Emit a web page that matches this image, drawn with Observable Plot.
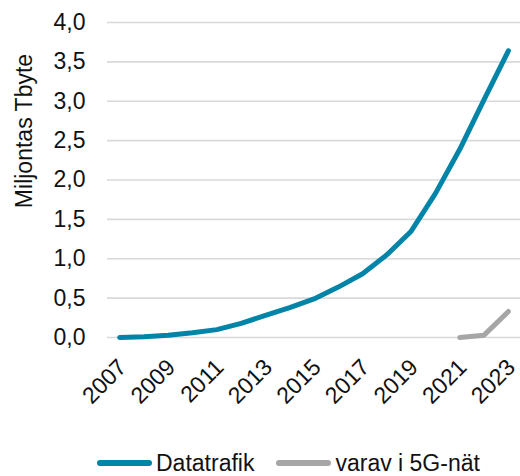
<!DOCTYPE html>
<html>
<head>
<meta charset="utf-8">
<script src="https://cdn.jsdelivr.net/npm/d3@7"></script>
<script src="https://cdn.jsdelivr.net/npm/@observablehq/plot@0.6"></script>
<style>
  html, body { margin: 0; padding: 0; background: #fff; }
  body { width: 520px; height: 476px; overflow: hidden; position: relative; font-family: "Liberation Sans", Arial, sans-serif; }
  #chart svg text { font-family: "Liberation Sans", Arial, sans-serif; fill: #111; }
  #legend { position: absolute; left: 97px; top: 445px; display: flex; align-items: center; height: 36px; font-size: 23px; color: #111; white-space: nowrap; }
  .item { display: flex; align-items: center; }
  .item + .item { margin-left: 22px; }
  .sw { width: 55px; height: 6px; border-radius: 3px; margin-right: 4px; }
</style>
</head>
<body>
<div id="chart"></div>
<div id="legend"></div>
<script>
const years = [2007,2008,2009,2010,2011,2012,2013,2014,2015,2016,2017,2018,2019,2020,2021,2022,2023];
const datatrafik = [0.00,0.01,0.03,0.06,0.10,0.18,0.28,0.38,0.49,0.64,0.81,1.05,1.35,1.83,2.39,3.02,3.64];
const years5G = [2021,2022,2023];
const varav5G = [0.00,0.03,0.33];
const yTicks = [0,0.5,1,1.5,2,2.5,3,3.5,4];
const xTicks = [2007,2009,2011,2013,2015,2017,2019,2021,2023];
const seriesNames = ["Datatrafik","varav i 5G-nät"];
const colors = ["#0084a8","#a6a6a6"];

const d1 = years.map((y,i) => ({year: y, value: datatrafik[i]}));
const d2 = years5G.map((y,i) => ({year: y, value: varav5G[i]}));
const fmt = d => d.toFixed(1).replace(".", ",");

const plot = Plot.plot({
  width: 520,
  height: 440,
  marginLeft: 107,
  marginRight: 0,
  marginTop: 22,
  marginBottom: 103,
  style: {fontFamily: "Liberation Sans, Arial, sans-serif", fontSize: "23px", color: "#111", background: "#fff"},
  x: {type: "linear", domain: [2006.5, 2023.5]},
  y: {domain: [0, 4]},
  marks: [
    Plot.ruleY(yTicks, {stroke: "#d9d9d9", strokeWidth: 1.6}),
    Plot.axisY({ticks: yTicks, tickFormat: fmt, tickSize: 0, tickPadding: 22, fontSize: 23, label: null}),
    Plot.text(["Miljontas Tbyte"], {frameAnchor: "left", textAnchor: "middle", dx: -83, dy: -49, rotate: -90, fontSize: 23, fill: "#111"}),
    Plot.axisX({ticks: xTicks, tickFormat: d => String(d), tickSize: 0, tickRotate: -45, tickPadding: 26, dx: 3, fontSize: 23, label: null}),
    Plot.line(d1, {x: "year", y: "value", stroke: colors[0], strokeWidth: 5, strokeLinecap: "round", strokeLinejoin: "round"}),
    Plot.line(d2, {x: "year", y: "value", stroke: colors[1], strokeWidth: 5, strokeLinecap: "round", strokeLinejoin: "round"})
  ]
});
document.getElementById("chart").appendChild(plot);

const legend = document.getElementById("legend");
seriesNames.forEach((n,i) => {
  const it = document.createElement("div");
  it.className = "item";
  const sw = document.createElement("div");
  sw.className = "sw";
  sw.style.background = colors[i];
  const t = document.createElement("span");
  t.textContent = n;
  it.appendChild(sw); it.appendChild(t);
  legend.appendChild(it);
});
</script>
</body>
</html>
